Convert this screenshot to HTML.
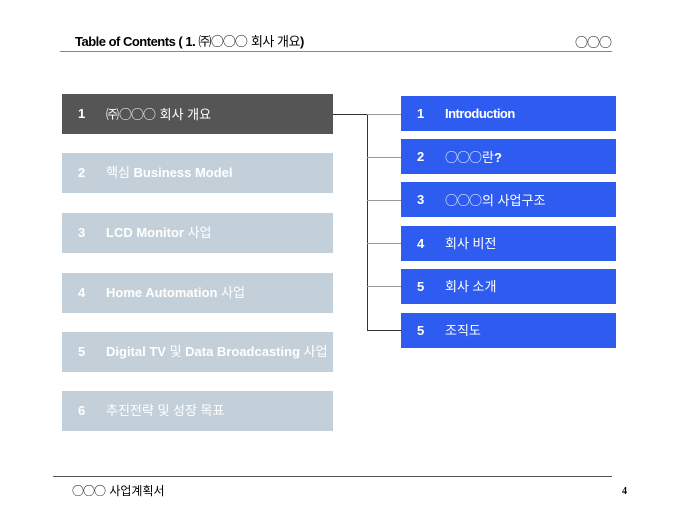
<!DOCTYPE html>
<html><head><meta charset="utf-8"><style>
body{margin:0;width:680px;height:510px;background:#fff;position:relative;overflow:hidden;font-family:"Liberation Sans","Noto Sans CJK KR",sans-serif}
.a{position:absolute}
.c{font-family:"Noto Sans CJK KR",sans-serif;font-weight:normal;letter-spacing:-1px;margin-right:1px}
.k{font-weight:normal}
.l{position:absolute;left:62px;width:271px;height:40px;background:#c4d0d9;color:#fff;font-size:13px;line-height:40px;font-weight:bold}
.l>span,.b>span{position:absolute;left:16px}
.l>em,.b>em{position:absolute;left:44px;font-style:normal;white-space:nowrap}
.b{position:absolute;left:401px;width:215px;height:35px;background:#2f5cf0;color:#fff;font-size:13px;line-height:35px;font-weight:bold}
.h{position:absolute;height:1px;background:#333}
.v{position:absolute;width:1px;background:#333}
</style></head><body>
<div class="a" style="left:75px;top:31px;font-size:13px;font-weight:bold;letter-spacing:-0.5px;white-space:nowrap">Table of Contents ( 1. <span class="k">㈜<span class="c">○○○</span> 회사 개요</span>)</div>
<div class="a" style="left:575px;top:32px;font-size:13px"><span class="c">○○○</span></div>
<div class="h" style="left:60px;top:51px;width:552px;background:#888"></div>

<div class="l" style="top:94px;background:#555"><span>1</span><em class="k">㈜<span class="c">○○○</span> 회사 개요</em></div>
<div class="l" style="top:153px"><span>2</span><em><span class="k">핵심</span> Business Model</em></div>
<div class="l" style="top:213px"><span>3</span><em>LCD Monitor <span class="k">사업</span></em></div>
<div class="l" style="top:273px"><span>4</span><em>Home Automation <span class="k">사업</span></em></div>
<div class="l" style="top:332px"><span>5</span><em>Digital TV <span class="k">및</span> Data Broadcasting <span class="k">사업</span></em></div>
<div class="l" style="top:391px"><span>6</span><em class="k">추진전략 및 성장 목표</em></div>

<div class="h" style="left:333px;top:114px;width:34px"></div>
<div class="v" style="left:367px;top:114px;height:216px"></div>
<div class="h" style="left:367px;top:114px;width:34px;background:#999"></div>
<div class="h" style="left:367px;top:157px;width:34px;background:#999"></div>
<div class="h" style="left:367px;top:200px;width:34px;background:#999"></div>
<div class="h" style="left:367px;top:243px;width:34px;background:#999"></div>
<div class="h" style="left:367px;top:286px;width:34px;background:#999"></div>
<div class="h" style="left:367px;top:330px;width:34px"></div>

<div class="b" style="top:96px"><span>1</span><em style="letter-spacing:-0.5px">Introduction</em></div>
<div class="b" style="top:139px"><span>2</span><em><span class="c">○○○</span><span class="k">란</span>?</em></div>
<div class="b" style="top:182px"><span>3</span><em class="k"><span class="c">○○○</span>의 사업구조</em></div>
<div class="b" style="top:226px"><span>4</span><em class="k">회사 비전</em></div>
<div class="b" style="top:269px"><span>5</span><em class="k">회사 소개</em></div>
<div class="b" style="top:313px"><span>5</span><em class="k">조직도</em></div>

<div class="h" style="left:53px;top:476px;width:559px;background:#555"></div>
<div class="a" style="left:72px;top:482px;font-size:12px;white-space:nowrap"><span class="c">○○○</span> 사업계획서</div>
<div class="a" style="left:622px;top:486px;font-size:10px;font-weight:bold;font-family:'Liberation Serif',serif">4</div>
</body></html>
